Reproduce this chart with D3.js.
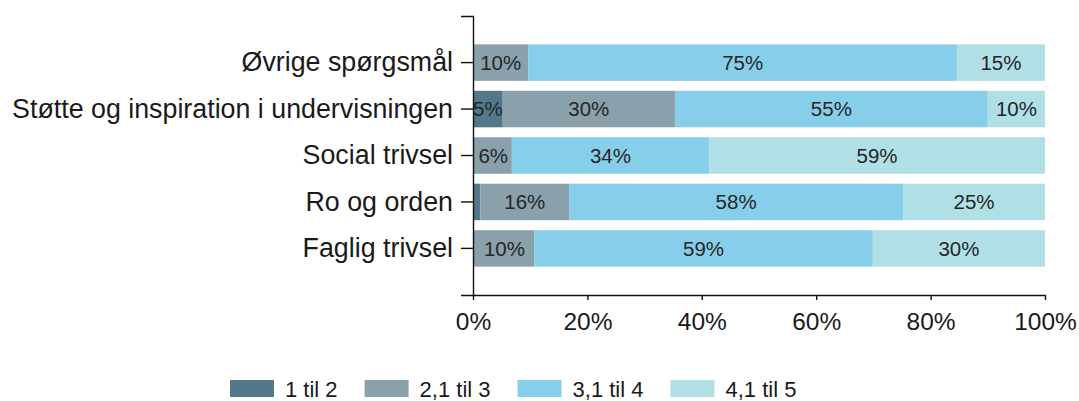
<!DOCTYPE html>
<html>
<head>
<meta charset="utf-8">
<script src="https://cdn.jsdelivr.net/npm/d3@7"></script>
<style>
  body { margin: 0; background: #fff; }
  text { font-family: "Liberation Sans", Arial, sans-serif; fill: #1a1a1a; }
</style>
</head>
<body>
<div id="chart"></div>
<script>
// categories top to bottom
const categories = ["Øvrige spørgsmål", "Støtte og inspiration i undervisningen", "Social trivsel", "Ro og orden", "Faglig trivsel"]

// series (percent of respondents)
const seriesNames = ["1 til 2", "2,1 til 3", "3,1 til 4", "4,1 til 5"]
const s1 = [0, 5.2, 0.3, 1.3, 0.3]
const s2 = [9.7, 30.1, 6.49, 15.5, 10.4]
const s3 = [74.9, 54.7, 34.49, 58.4, 59.2]
const s4 = [15.4, 10.0, 58.72, 24.8, 30.1]

const xTicks = [0, 20, 40, 60, 80, 100]

const colors = ["#52798b", "#8aa1ac", "#87ceeb", "#b0e0e6"]

const width = 1079,
      height = 401,
      margin = ({ top: 16, right: 34, bottom: 106, left: 473 })

let svg = d3.select("#chart")
    .append("svg")
    .attr("width", width)
    .attr("height", height)

// build rows for the stack
const seriesValues = [s1, s2, s3, s4]
let rows = categories.map((c, i) => {
    let r = { cat: c }
    seriesNames.forEach((s, j) => r[s] = seriesValues[j][i])
    return r
})

let stacked = d3.stack().keys(seriesNames)(rows)

let x = d3.scaleLinear()
    .domain([0, 100])
    .range([margin.left, width - margin.right])

let y = d3.scaleBand()
    .domain(categories)
    .range([margin.top, height - margin.bottom])
    .paddingInner(0.214)
    .paddingOuter(0.61)

// bars
let layer = svg.selectAll(".layer")
    .data(stacked)
    .join("g")
    .attr("class", "layer")
    .attr("fill", (d, i) => colors[i])

layer.selectAll("rect")
    .data(d => d)
    .join("rect")
    .attr("x", d => x(d[0]))
    .attr("y", d => y(d.data.cat))
    .attr("width", d => x(d[1]) - x(d[0]))
    .attr("height", y.bandwidth())

// value labels, skip very small segments
layer.selectAll("text")
    .data(d => d.filter(v => v[1] - v[0] >= 3))
    .join("text")
    .attr("x", d => (x(d[0]) + x(d[1])) / 2)
    .attr("y", d => y(d.data.cat) + y.bandwidth() / 2)
    .attr("dy", "0.36em")
    .attr("text-anchor", "middle")
    .style("font-size", "20.5px")
    .style("fill", "#262626")
    .text(d => Math.round(d[1] - d[0]) + "%")

// x axis
let xAxis = svg.append("g")
    .attr("transform", `translate(0,${height - margin.bottom})`)
    .call(d3.axisBottom(x).tickValues(xTicks).tickFormat(d => d + "%").tickSize(5).tickSizeOuter(0).tickPadding(13))
xAxis.selectAll("text").style("font-size", "24.5px")

// y axis
let yAxis = svg.append("g")
    .attr("transform", `translate(${margin.left},0)`)
    .call(d3.axisLeft(y).tickSize(12).tickSizeOuter(12).tickPadding(8))
yAxis.selectAll("text").style("font-size", "26.8px")

svg.selectAll(".domain, .tick line")
    .attr("stroke", "#111")
    .attr("stroke-width", 1.4)

// legend
let lx = 230
seriesNames.forEach((s, i) => {
    svg.append("rect")
        .attr("x", lx)
        .attr("y", 380)
        .attr("width", 44)
        .attr("height", 17)
        .attr("fill", colors[i])
    let t = svg.append("text")
        .attr("x", lx + 55)
        .attr("y", 397)
        .style("font-size", "22px")
        .text(s)
    lx += 55 + t.node().getComputedTextLength() + 27
})
</script>
</body>
</html>
